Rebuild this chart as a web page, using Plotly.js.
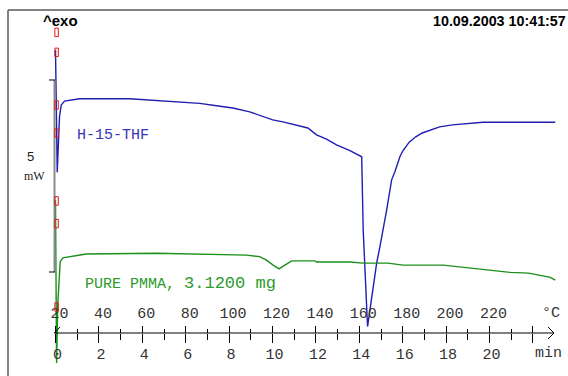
<!DOCTYPE html>
<html>
<head>
<meta charset="utf-8">
<script src="https://cdn.plot.ly/plotly-3.0.1.min.js"></script>
<style>html,body{margin:0;padding:0;background:#fff;}#chart{width:568px;height:376px;}</style>
</head>
<body>
<div id="chart"></div>
<script>
// ---- data (time in min, heat flow in mW, arbitrary per-curve offset) ----
const timeBlue = [0, 0.08, 0.185, 0.263, 0.415, 0.72, 1.11, 3.41, 4.34, 5.03, 6.03, 6.65, 7.42, 8.17, 8.95, 9.55, 10.01, 10.48, 11.26, 11.63, 12.03, 12.49, 12.95, 13.57, 14.11, 14.18, 14.38, 14.57, 14.80, 14.95, 15.10, 15.26, 15.49, 15.64, 15.87, 16.0, 16.3, 16.6, 16.9, 17.3, 17.7, 18.3, 19.0, 19.7, 23.03];
const heatBlue = [5.78, 2.60, 4.04, 4.35, 4.45, 4.47, 4.51, 4.51, 4.48, 4.45, 4.42, 4.39, 4.33, 4.27, 4.17, 4.06, 3.96, 3.91, 3.81, 3.75, 3.57, 3.46, 3.31, 3.16, 3.00, 1.09, -1.42, -0.64, 0.23, 0.66, 1.09, 1.61, 2.40, 2.61, 3.00, 3.15, 3.38, 3.52, 3.62, 3.71, 3.78, 3.83, 3.87, 3.90, 3.90];
const timeGreen = [0, 0.05, 0.106, 0.217, 0.337, 0.646, 0.955, 1.42, 4.65, 8.03, 8.80, 9.41, 9.72, 10.03, 10.30, 10.57, 10.88, 11.95, 12.03, 13.57, 14.11, 14.17, 15.32, 16.01, 17.87, 18.49, 19.26, 20.03, 20.95, 21.80, 22.34, 22.80, 23.03];
const heatGreen = [1.875, -2.37, -0.81, 0.27, 0.37, 0.40, 0.42, 0.47, 0.49, 0.46, 0.44, 0.40, 0.31, 0.18, 0.08, 0.18, 0.29, 0.29, 0.26, 0.26, 0.25, 0.23, 0.23, 0.18, 0.18, 0.14, 0.08, 0.03, -0.01, -0.03, -0.08, -0.14, -0.21];
const redMarks = [6.24, 5.72, 4.35, 3.62, 1.85, 1.26, -0.91];
const minTicks = [0, 2, 4, 6, 8, 10, 12, 14, 16, 18, 20, 22];
const minLabels = ['0', '2', '4', '6', '8', '10', '12', '14', '16', '18', '20', ''];
const minMinor = [1, 3, 5, 7, 9, 11, 13, 15, 17, 19, 21];
const tempTicks = [20, 40, 60, 80, 100, 120, 140, 160, 180, 200, 220, 240];
const tempLabels = ['20', '40', '60', '80', '100', '120', '140', '160', '180', '200', '220', ''];
const tempMinor = [30, 50, 70, 90, 110, 130, 150, 170, 190, 210, 230];
const labelBlue = 'H-15-THF';
const labelGreen = 'PURE PMMA, <span style="font-size:17px">3.1200 mg</span>';

// ---- layout helpers (page pixels -> paper fractions) ----
const W = 568, H = 376;
const X = px => px / W;
const Y = py => 1 - py / H;
const pxPerMin = 21.7, t0px = 55.5;
const domPx = [30, 556];
const tRange = [(domPx[0] - t0px) / pxPerMin, (domPx[1] - t0px) / pxPerMin];
const axisPos = Y(333);
const mono = 'Liberation Mono, Courier New, monospace';

const traces = [
  {x: timeBlue, y: heatBlue, mode: 'lines', line: {color: '#1f1fb0', width: 1.4}, xaxis: 'x', yaxis: 'y', hoverinfo: 'skip'},
  {x: timeGreen, y: heatGreen, mode: 'lines', line: {color: '#1a8f1a', width: 1.4}, xaxis: 'x', yaxis: 'y', hoverinfo: 'skip'},
  {x: [20], y: [0], xaxis: 'x2', yaxis: 'y', mode: 'markers', marker: {opacity: 0}, hoverinfo: 'skip'}
];

const shapes = [
  {type: 'line', xref: 'paper', yref: 'paper', x0: X(8), x1: 1, y0: Y(10), y1: Y(10), line: {color: '#5a5a5a', width: 1.5}},
  {type: 'line', xref: 'paper', yref: 'paper', x0: X(8), x1: X(8), y0: Y(10), y1: 0, line: {color: '#5a5a5a', width: 1.5}},
  // 5 mW scale bar
  {type: 'line', xref: 'paper', yref: 'y', x0: X(54.5), x1: X(54.5), y0: 0, y1: 5, line: {color: '#8a8a8a', width: 2}},
  {type: 'line', xref: 'paper', yref: 'y', x0: X(49), x1: X(55), y0: 5, y1: 5, line: {color: '#000', width: 1}},
  {type: 'line', xref: 'paper', yref: 'y', x0: X(49), x1: X(55), y0: 0, y1: 0, line: {color: '#000', width: 1}},
  // time axis line, start slash and arrow head
  {type: 'line', xref: 'paper', yref: 'paper', x0: X(54), x1: X(554), y0: axisPos, y1: axisPos, line: {color: '#000', width: 1}},
  {type: 'line', xref: 'paper', yref: 'paper', x0: X(54.5), x1: X(60), y0: Y(333), y1: Y(327), line: {color: '#000', width: 1}},
  {type: 'path', xref: 'paper', yref: 'paper', path: `M ${X(548)} ${Y(327)} L ${X(554)} ${Y(333)} L ${X(548)} ${Y(339)}`, line: {color: '#000', width: 1}}
];
redMarks.forEach(v => shapes.push({type: 'rect', xref: 'x', yref: 'y', x0: -0.03, x1: 0.13, y0: v - 0.11, y1: v + 0.11, line: {color: '#e01818', width: 1}, fillcolor: 'rgba(0,0,0,0)'}));

const ann = (text, x, y, font, xanchor) => ({text, x: X(x), y: Y(y), xref: 'paper', yref: 'paper', showarrow: false, xanchor: xanchor || 'center', yanchor: 'middle', font});
const annotations = [
  ann('^exo', 41, 21, {family: 'Liberation Sans, Arial', size: 15, color: '#000', weight: 'bold'}, 'left'),
  ann('10.09.2003 10:41:57', 431, 21, {family: 'Liberation Sans, Arial', size: 14.3, color: '#000', weight: 'bold'}, 'left'),
  ann('5', 30.8, 156, {family: 'Liberation Sans, Arial', size: 13, color: '#222'}),
  ann('mW', 34.7, 176, {family: 'Liberation Serif, Times New Roman', size: 12, color: '#222'}),
  ann(labelBlue, 75, 135.5, {family: mono, size: 15, color: '#3535b5'}, 'left'),
  ann(labelGreen, 83, 283, {family: mono, size: 15, color: '#2b9a2b'}, 'left'),
  ann('°C', 550.8, 313, {family: mono, size: 15, color: '#333'}),
  ann('min', 548.8, 353, {family: mono, size: 15, color: '#333'})
];

const layout = {
  width: W, height: H,
  margin: {l: 0, r: 0, t: 0, b: 0},
  paper_bgcolor: '#fff', plot_bgcolor: 'rgba(0,0,0,0)',
  showlegend: false,
  xaxis: {
    domain: [X(domPx[0]), X(domPx[1])], range: tRange, anchor: 'free', position: axisPos,
    showgrid: false, zeroline: false, showline: false,
    tickmode: 'array', tickvals: minTicks, ticktext: minLabels,
    ticks: 'outside', ticklen: 9, tickwidth: 1, tickcolor: '#000',
    ticklabelshift: 2, ticklabelstandoff: -2,
    tickfont: {family: mono, size: 15, color: '#333'},
    minor: {tickmode: 'array', tickvals: minMinor, ticks: 'outside', ticklen: 6, tickcolor: '#000', tickwidth: 1, showgrid: false}
  },
  xaxis2: {
    overlaying: 'x', domain: [X(domPx[0]), X(domPx[1])], range: [20 + 10 * tRange[0], 20 + 10 * tRange[1]], anchor: 'free', position: axisPos, side: 'bottom',
    showgrid: false, zeroline: false, showline: false,
    tickmode: 'array', tickvals: tempTicks, ticktext: tempLabels,
    ticks: 'inside', ticklen: 7, tickwidth: 1, tickcolor: '#000',
    ticklabelposition: 'inside', ticklabelshift: 4, ticklabelstandoff: 5,
    tickfont: {family: mono, size: 15, color: '#333'},
    minor: {tickmode: 'array', tickvals: tempMinor, ticks: 'inside', ticklen: 4, tickcolor: '#000', tickwidth: 1, showgrid: false}
  },
  yaxis: {
    domain: [0, 1], range: [-2.708, 7.083], visible: false, showgrid: false, zeroline: false, fixedrange: true
  },
  shapes, annotations
};

Plotly.newPlot('chart', traces, layout, {displayModeBar: false, staticPlot: true});
</script>
</body>
</html>
